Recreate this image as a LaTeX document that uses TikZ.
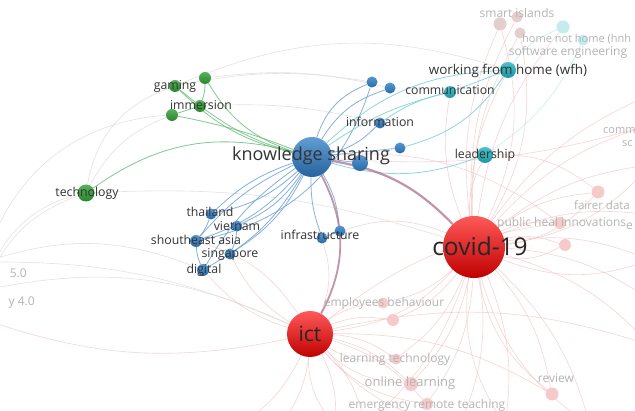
\documentclass[tikz,border=0pt]{standalone}
\usepackage{fontspec}
\setmainfont{Open Sans}
\usetikzlibrary{backgrounds}
\definecolor{bluec}{HTML}{2E7CC6}
\definecolor{bluel}{HTML}{6FA3D8}
\definecolor{greenc}{HTML}{2E9E32}
\definecolor{greenl}{HTML}{6CBF7E}
\definecolor{tealc}{HTML}{1FB0BE}
\definecolor{teall}{HTML}{7FD3DA}
\definecolor{fpink}{HTML}{F6CACA}
\definecolor{fgrey}{HTML}{E4CFCF}
\definecolor{fteal}{HTML}{C4ECEF}
\definecolor{labc}{HTML}{333333}
\definecolor{fadec}{HTML}{B4B4B4}
\definecolor{mauve}{HTML}{B0708E}
\definecolor{redl}{HTML}{F2B8B8}
\definecolor{greyl}{HTML}{D9DDD9}
\begin{document}
\begin{tikzpicture}[x=1pt,y=-1pt,
  dot/.style={circle, inner sep=0pt, draw=none},
  bdot/.style={dot, top color=bluec!80!white, bottom color=bluec!85!black},
  gdot/.style={dot, top color=greenc!80!white, bottom color=greenc!85!black},
  tdot/.style={dot, top color=tealc!80!white, bottom color=tealc!85!black},
  fdot/.style={dot, fill=fpink},
  fgdot/.style={dot, fill=fgrey},
  ftdot/.style={dot, fill=fteal},
  lbl/.style={inner sep=0pt, text=labc, font=\fontsize{12.3}{14}\selectfont},
  flbl/.style={inner sep=0pt, text=fadec, font=\fontsize{12}{14}\selectfont},
  bedge/.style={draw=bluel, line width=0.8pt, opacity=0.85},
  tedge/.style={draw=teall, line width=0.8pt, opacity=0.9},
  gedge/.style={draw=greenl, line width=0.8pt, opacity=0.85},
  redge/.style={draw=redl, line width=0.6pt, opacity=0.6},
  fedge/.style={draw=greyl, line width=0.6pt, opacity=0.8},
  medge/.style={draw=mauve, opacity=0.75},
]
\useasboundingbox (0,0) rectangle (635,411);

% ---------- faded nodes ----------
\node[fgdot, minimum size=13pt] (si1) at (500,24) {};
\node[fgdot, minimum size=11pt] (si2) at (517,17) {};
\node[fgdot, minimum size=11pt] (si3) at (520,33) {};
\node[ftdot, minimum size=13pt] (hn1) at (563,27) {};
\node[ftdot, minimum size=11pt] (hn2) at (583,40) {};
\node[fdot, minimum size=11pt] (eb1) at (383,303) {};
\node[fdot, minimum size=12pt] (eb2) at (393,320) {};
\node[fdot, minimum size=11pt] (lt) at (396,359) {};
\node[fdot, minimum size=14pt] (ol) at (411,384) {};
\node[fdot, minimum size=12pt] (ert) at (427,404) {};
\node[fdot, minimum size=13pt] (rev) at (552,394) {};
\node[fdot, minimum size=13pt] (fd) at (598,192) {};
\node[fdot, minimum size=12pt] (ph1) at (560,223) {};
\node[fdot, minimum size=12pt] (ph2) at (565,245) {};

\node[flbl] (siL) at (517,13) {smart islands};
\node[flbl, anchor=west, font=\fontsize{11}{13}\selectfont] (hnL) at (522,39) {home not home (hnh};
\node[flbl] (seL) at (568,52) {software engineering};
\node[flbl] (ebL) at (384,303) {employees behaviour};
\node[flbl] (ltL) at (395,359) {learning technology};
\node[flbl, font=\fontsize{13}{15}\selectfont] (olL) at (410,383) {online learning};
\node[flbl] (ertL) at (427,405) {emergency remote teaching};
\node[flbl] (revL) at (556,378) {review};
\node[flbl, anchor=west, font=\fontsize{11.5}{13}\selectfont] (fdL) at (574,205) {fairer data};
\node[flbl, anchor=west] (phL) at (497,223) {public heal innovations};
\node[flbl, anchor=west] (eL) at (626,226) {e};
\node[flbl, anchor=west, font=\fontsize{11}{13}\selectfont] (cmL) at (603,131) {comm};
\node[flbl, anchor=west, font=\fontsize{11}{13}\selectfont] (scL) at (622,144) {sc};
\node[flbl, anchor=east] (f5L) at (27,273) {5.0};
\node[flbl, anchor=east] (f4L) at (35,303) {y 4.0};

% ---------- main nodes ----------
\node[dot, minimum size=62pt, top color=red!65!white, bottom color=red!75!black] (cov) at (474,247) {};
\node[dot, minimum size=46pt, top color=red!65!white, bottom color=red!75!black] (ict) at (310,334) {};
\node[dot, minimum size=40pt, top color=bluec!75!white, bottom color=bluec!80!black] (ks) at (312,157) {};

\node[gdot, minimum size=17pt] (tech) at (86,193) {};
\node[gdot, minimum size=12pt] (gam) at (175,86) {};
\node[gdot, minimum size=12pt] (g2) at (205,78) {};
\node[gdot, minimum size=12pt] (imm) at (200,106) {};
\node[gdot, minimum size=12pt] (g4) at (172,115) {};

\node[bdot, minimum size=11pt] (b1) at (372,82) {};
\node[bdot, minimum size=11pt] (b2) at (390,88) {};
\node[tdot, minimum size=12pt] (comm) at (450,92) {};
\node[tdot, minimum size=16pt] (wfh) at (508,70) {};
\node[bdot, minimum size=11pt] (info) at (380,123) {};
\node[bdot, minimum size=11pt] (b3) at (400,148) {};
\node[bdot, minimum size=16pt] (b4) at (360,163) {};
\node[tdot, minimum size=16pt] (lead) at (485,155) {};

\node[bdot, minimum size=11pt] (thai) at (211,214) {};
\node[bdot, minimum size=11pt] (viet) at (237,226) {};
\node[bdot, minimum size=12pt] (sea) at (196,241) {};
\node[bdot, minimum size=11pt] (sing) at (230,254) {};
\node[bdot, minimum size=12pt] (dig) at (203,270) {};
\node[bdot, minimum size=11pt] (inf1) at (322,238) {};
\node[bdot, minimum size=11pt] (inf2) at (340,231) {};

% ---------- labels ----------
\node[lbl, font=\fontsize{18}{20}\selectfont] (ksL) at (311,156) {knowledge sharing};
\node[lbl, font=\fontsize{24.5}{27}\selectfont, text=black!85] (covL) at (480,246) {covid-19};
\node[lbl, font=\fontsize{21}{23}\selectfont, text=black!85] (ictL) at (310,334) {ict};
\node[lbl] (techL) at (87,193) {technology};
\node[lbl] (gamL) at (175,86) {gaming};
\node[lbl] (immL) at (201,105) {immersion};
\node[lbl, font=\fontsize{13.4}{15}\selectfont] (wfhL) at (508,71) {working from home (wfh)};
\node[lbl] (commL) at (450,90) {communication};
\node[lbl] (infoL) at (380,122) {information};
\node[lbl] (leadL) at (485,155) {leadership};
\node[lbl] (thaiL) at (210,212) {thailand};
\node[lbl] (vietL) at (237,226) {vietnam};
\node[lbl] (seaL) at (196,240) {shoutheast asia};
\node[lbl] (singL) at (230,254) {singapore};
\node[lbl] (digL) at (204,270) {digital};
\node[lbl] (infL) at (320,235) {infrastructure};

% ---------- off-canvas ends ----------
\coordinate (oR1) at (650,95);
\coordinate (oR2) at (650,125);
\coordinate (oR3) at (650,165);
\coordinate (oR4) at (650,215);
\coordinate (oR5) at (650,260);
\coordinate (oR6) at (650,300);
\coordinate (oR7) at (650,345);
\coordinate (oB1) at (460,425);
\coordinate (oB2) at (505,425);
\coordinate (oB3) at (590,425);
\coordinate (oB4) at (365,425);
\coordinate (oB5) at (280,425);
\coordinate (oB6) at (335,425);
\coordinate (oB7) at (240,425);
\coordinate (oL1) at (-15,262);
\coordinate (oL2) at (-15,290);
\coordinate (oL3) at (-15,320);

\begin{scope}[on background layer]
\fill[white] (0,0) rectangle (635,411);
% faint grey arcs
\draw[fedge] (tech) to[bend right=25] (oL2);
\draw[fedge] (tech) to[bend right=40] (oL3);
\draw[fedge] (g4) to[bend right=20] (tech);
\draw[fedge] (gam) to[bend right=30] (tech);
\draw[fedge] (gam) to[bend left=10] (b1);
\draw[fedge] (g2) to[bend left=10] (b2);
\draw[fedge] (imm) to[bend left=8] (info);
\draw[fedge] (oL1) to[bend left=12] (ict);
\draw[fedge] (oL2) to[bend left=18] (ict);
\draw[fedge] (tech) to[bend left=10] (cov);
\draw[fedge] (oL1) to[bend left=20] (dig);
\draw[fedge] (g4) to[bend right=35] (oL1);
\draw[fedge] (gam) to[bend left=20] (wfh);

% faint red edges
\foreach \t in {si1,si2,si3,hn1,fd,ph1,ph2,rev,eb1,eb2,ol,ert,lt,oR1,oR2,oR3,oR4,oR5,oR6,oR7,oB1,oB2,oB3,oB4,lead,wfh,comm}
  \draw[redge] (cov) to[bend left=15] (\t);
\foreach \t in {si1,si3,fd,ph2,rev,oR3,oR5,oB2,oB3}
  \draw[redge] (cov) to[bend right=20] (\t);
\foreach \t in {eb1,eb2,lt,ol,ert,oB5,oB6,oB7,oB4,dig,sing,rev,oR7,ph1,oL3}
  \draw[redge] (ict) to[bend left=15] (\t);
\foreach \t in {lt,ol,ert,oB6,oB1,cov,inf1,sea}
  \draw[redge] (ict) to[bend right=20] (\t);
\draw[redge] (ks) to[bend right=10] (oR2);
\draw[redge] (ks) to[bend left=20] (ph1);
\draw[redge] (inf2) to[bend left=20] (cov);
\draw[redge] (lead) to[bend left=20] (fd);
\draw[draw=teall, opacity=0.4, line width=0.6pt] (wfh) to[bend left=15] (hn1);
\draw[draw=teall, opacity=0.4, line width=0.6pt] (lead) to[bend right=15] (hn2);

% green edges
\draw[gedge] (gam) to[bend right=15] (ks);
\draw[gedge] (g2) to[bend right=20] (ks);
\draw[gedge] (imm) to[bend right=10] (ks);
\draw[gedge] (g4) to[bend left=5] (ks);
\draw[gedge] (tech) to[bend left=25] (ks);
\draw[gedge] (gam) -- (imm);
\draw[gedge] (g2) to[bend left=10] (imm);
\draw[gedge] (g4) -- (imm);

% blue edges
\foreach \t in {thai,viet,sea,sing,dig}
  \draw[bedge] (ks) to[bend left=15] (\t);
\foreach \t in {thai,sea,dig}
  \draw[bedge] (ks) to[bend right=12] (\t);
\draw[bedge] (ks) to[bend right=10] (inf1);
\draw[bedge] (ks) to[bend left=12] (inf2);
\draw[bedge] (ks) to[bend right=15] (info);
\draw[bedge] (ks) to[bend left=25] (b1);
\draw[bedge] (ks) to[bend left=20] (b2);
\draw[bedge] (ks) -- (b3);
\draw[bedge] (ks) -- (b4);
\draw[bedge] (thai) to[bend left=10] (sea);
\draw[bedge] (viet) to[bend left=10] (sing);
\draw[bedge] (sea) to[bend right=10] (dig);
\draw[bedge] (inf1) -- (inf2);
\draw[bedge] (b1) to[bend left=30] (sea);

% teal edges
\draw[tedge] (ks) to[bend left=20] (wfh);
\draw[tedge] (ks) to[bend left=10] (comm);
\draw[tedge] (ks) to[bend right=18] (lead);
\draw[tedge] (b3) to[bend right=20] (wfh);
\draw[tedge] (comm) -- (wfh);
\draw[tedge] (info) to[bend left=10] (comm);

% mauve edges
\draw[medge, line width=2.2pt] (ks) to[bend left=18] (cov);
\draw[medge, line width=1.8pt] (ks) to[bend left=28] (ict);
\end{scope}
\end{tikzpicture}
\end{document}
